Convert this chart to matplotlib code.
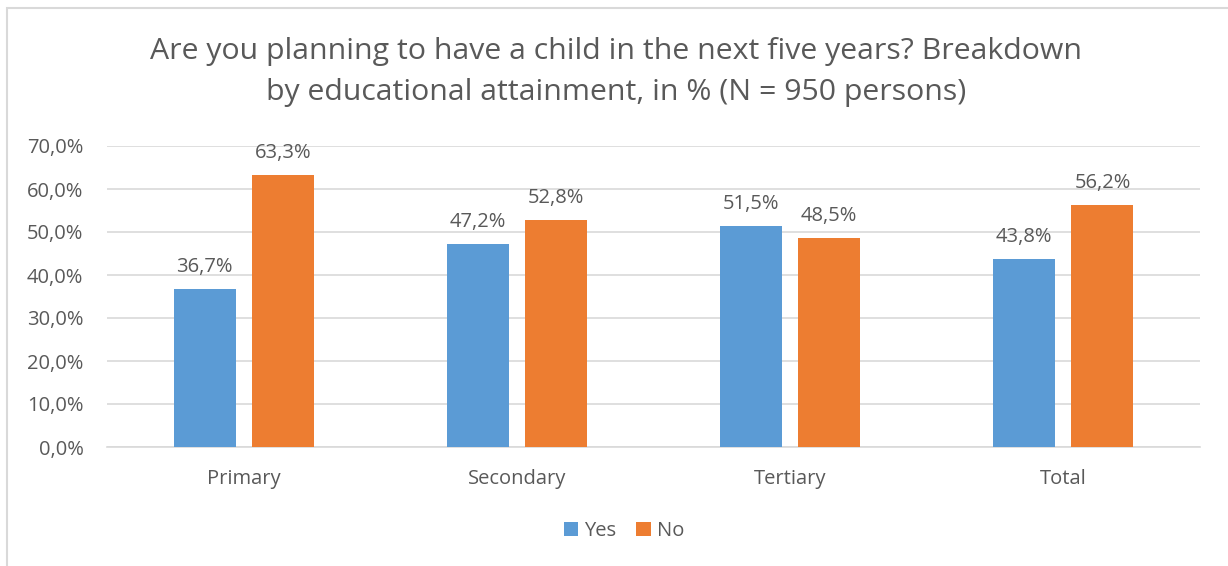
import matplotlib.pyplot as plt
import numpy as np
from matplotlib.patches import Rectangle
from matplotlib.ticker import FuncFormatter

plt.rcParams['font.family'] = ['Open Sans', 'DejaVu Sans']

# survey shares by education level
categories = ["Primary", "Secondary", "Tertiary", "Total"]
yes_vals = [36.7, 47.2, 51.5, 43.8]
no_vals = [63.3, 52.8, 48.5, 56.2]

text_col = "#595959"
blue = "#5B9BD5"
orange = "#ED7D31"

fig = plt.figure(figsize=(12.28, 5.66), dpi=100)
ax = fig.add_axes([107 / 1228, 1 - 447 / 566, 1093 / 1228, 301 / 566])

# chart area frame, open on the right and bottom
fig.patches.append(Rectangle((6.5 / 1228, -0.1), 2, 1.1 - 7.5 / 566, transform=fig.transFigure,
                             fill=False, edgecolor="#D9D9D9", linewidth=1.5))

x = np.arange(len(categories))
w = 0.227
off = 0.143
b1 = ax.bar(x - off, yes_vals, w, color=blue, label="Yes", zorder=3)
b2 = ax.bar(x + off, no_vals, w, color=orange, label="No", zorder=3)

for bars, vals in ((b1, yes_vals), (b2, no_vals)):
    for rect, v in zip(bars, vals):
        ax.text(rect.get_x() + rect.get_width() / 2, v + 2.8, f"{v:.1f}%".replace(".", ","),
                ha="center", va="bottom", fontsize=14.5, color=text_col)

ax.set_xlim(-0.5, 3.5)
ax.set_ylim(0, 70)
ax.set_yticks(np.arange(0, 71, 10))
ax.yaxis.set_major_formatter(FuncFormatter(lambda v, p: f"{v:.1f}%".replace(".", ",")))
ax.set_xticks(x)
ax.set_xticklabels(categories)
ax.tick_params(axis="both", length=0, labelsize=14.5, labelcolor=text_col)
ax.tick_params(axis="x", pad=16)
ax.tick_params(axis="y", pad=17)
ax.grid(axis="y", color="#D9D9D9", linewidth=1.2, zorder=0)
for s in ["top", "right", "left"]:
    ax.spines[s].set_visible(False)
ax.spines["bottom"].set_color("#D9D9D9")
ax.spines["bottom"].set_linewidth(1.2)

fig.text(0.5 + 2 / 1228, 1 - 72 / 566,
         "Are you planning to have a child in the next five years? Breakdown\nby educational attainment, in % (N = 950 persons)",
         ha="center", va="center", fontsize=21.8, color=text_col, linespacing=1.55)

fig.legend(loc="center", bbox_to_anchor=(624 / 1228, 1 - 531 / 566), ncol=2, frameon=False,
           fontsize=14.5, labelcolor=text_col, handlelength=0.7, handleheight=0.7,
           handletextpad=0.3, columnspacing=1.0)

fig.savefig("out.png", dpi=100)
